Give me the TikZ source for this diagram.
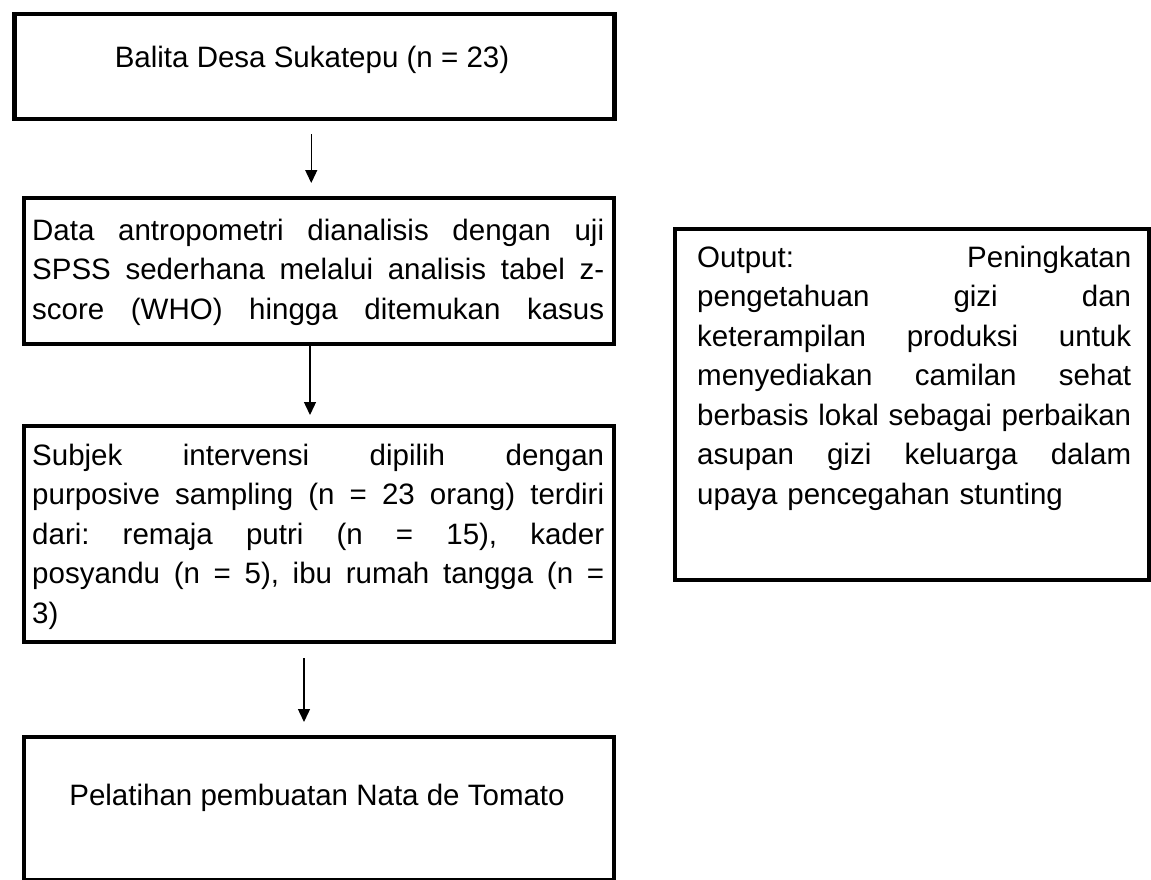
\documentclass[tikz,border=0pt]{standalone}
\usepackage{fontspec}
\setmainfont{Liberation Sans}
\usetikzlibrary{arrows.meta}
\newcommand{\fullline}[1]{\makebox[\linewidth][s]{\frenchspacing\spaceskip=0pt\xspaceskip=0pt #1}}

\begin{document}
\begin{tikzpicture}[x=1pt,y=-1pt,line join=miter,>={Triangle[width=12pt,length=13pt]}]
  \tikzset{
    flowbox/.style={draw,line width=4pt,inner sep=0pt,anchor=north west},
    flowtext/.style={inner sep=0pt,font=\fontsize{29.5}{39.5}\selectfont\frenchspacing},
    flowpar/.style={flowtext,anchor=base west,text width=#1},
    flowarrow/.style={->,line width=1.4pt},
  }
  \useasboundingbox[fill=white] (0,0) rectangle (1151,880);

  % ==================== boxes ====================
  \node[flowbox,line width=4.5pt,minimum width=600pt,minimum height=105pt] (balita) at (12,12) {};
  \node[flowbox,minimum width=590pt,minimum height=146pt] (antro) at (22,196) {};
  \node[flowbox,minimum width=590pt,minimum height=216pt] (subjek) at (22,424) {};
  \node[flowbox,line width=3.5pt,minimum width=590pt,minimum height=143pt] (latih) at (22,735) {};
  \node[flowbox,minimum width=474pt,minimum height=351pt] (output) at (673,227) {};

  % ==================== texts ====================
  \node[flowtext,anchor=base] (balitatext) at (312,68) {Balita Desa Sukatepu (n = 23)};
  \node[flowpar=572pt] (antrotext) at (32,240) {%
    \fullline{Data antropometri dianalisis dengan uji}\\
    \fullline{SPSS sederhana melalui analisis tabel z-}\\
    \fullline{score (WHO) hingga ditemukan kasus}};
  \node[flowpar=572pt] (subjektext) at (32,465) {%
    \fullline{Subjek intervensi dipilih dengan}\\
    \fullline{purposive sampling (n = 23 orang) terdiri}\\
    \fullline{dari: remaja putri (n = 15), kader}\\
    \fullline{posyandu (n = 5), ibu rumah tangga (n =}\\
    3)};
  \node[flowtext,anchor=base] (latihtext) at (317,805) {Pelatihan pembuatan Nata de Tomato};
  \node[flowpar=434pt] (outputtext) at (697,267) {%
    \fullline{Output: Peningkatan}\\
    \fullline{pengetahuan gizi dan}\\
    \fullline{keterampilan produksi untuk}\\
    \fullline{menyediakan camilan sehat}\\
    \fullline{berbasis lokal sebagai perbaikan}\\
    \fullline{asupan gizi keluarga dalam}\\
    upaya pencegahan stunting};

  % ==================== arrows ====================
  \draw[flowarrow,shorten <=13pt,shorten >=13pt] ([xshift=-3pt]balita.south) -- ([xshift=-3pt]balita.south |- antro.north);
  \draw[flowarrow,shorten >=9pt] ([xshift=-9pt]antro.south) -- ([xshift=-9pt]antro.south |- subjek.north);
  \draw[flowarrow,shorten <=14pt,shorten >=13pt] ([xshift=-15pt]subjek.south) -- ([xshift=-15pt]subjek.south |- latih.north);
\end{tikzpicture}
\end{document}
